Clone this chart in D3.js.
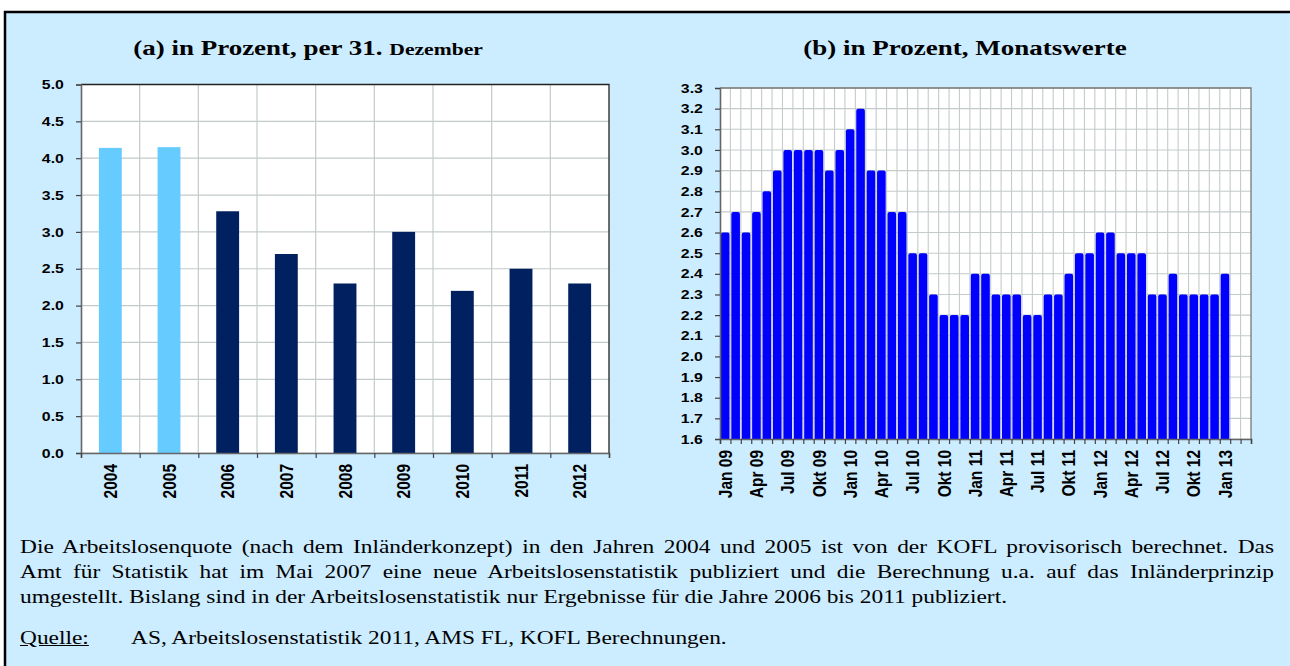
<!DOCTYPE html>
<html>
<head>
<meta charset="utf-8">
<script src="https://cdnjs.cloudflare.com/ajax/libs/d3/7.8.5/d3.min.js"></script>
<style>
body { margin: 0; background: #fff; }
#wrap { position: relative; width: 1290px; height: 666px; overflow: hidden; }
#chart { position: absolute; left: 0; top: 0; }
#note { position: absolute; left: 20px; top: 534px; width: 1254px; transform-origin: 0 0;
        font-family: "Liberation Serif", "Times New Roman", serif; font-size: 19px;
        line-height: 25px; color: #000; white-space: nowrap; }
#note .j { text-align: justify; text-align-last: justify; }
#note .src { margin-top: 16px; }
#note .lab { display: inline-block; text-decoration: underline; }
.tick text { font-family: "Liberation Sans", Arial, sans-serif; font-weight: bold; fill: #000; }
</style>
</head>
<body>
<div id="wrap">
<svg id="chart" width="1290" height="666"></svg>
<div id="note">
<div class="j">Die Arbeitslosenquote (nach dem Inländerkonzept) in den Jahren 2004 und 2005 ist von der KOFL provisorisch berechnet. Das</div>
<div class="j">Amt für Statistik hat im Mai 2007 eine neue Arbeitslosenstatistik publiziert und die Berechnung u.a. auf das Inländerprinzip</div>
<div><span id="last">umgestellt. Bislang sind in der Arbeitslosenstatistik nur Ergebnisse für die Jahre 2006 bis 2011 publiziert.</span></div>
<div class="src"><span class="lab">Quelle:</span>AS, Arbeitslosenstatistik 2011, AMS FL, KOFL Berechnungen.</div>
</div>
</div>
<script>
// (a) Jahreswerte per 31. Dezember
var years = ["2004", "2005", "2006", "2007", "2008", "2009", "2010", "2011", "2012"];
var yearValues = [4.14, 4.15, 3.28, 2.7, 2.3, 3.0, 2.2, 2.5, 2.3];
var provisional = ["2004", "2005"]; // KOFL-Schaetzung, heller eingefaerbt
var yearTicks = [0, 0.5, 1.0, 1.5, 2.0, 2.5, 3.0, 3.5, 4.0, 4.5, 5.0];

// (b) Monatswerte Jan 09 - Jan 13
var months = ["Jan 09", "Feb 09", "Mär 09", "Apr 09", "Mai 09", "Jun 09", "Jul 09", "Aug 09", "Sep 09", "Okt 09", "Nov 09", "Dez 09",
              "Jan 10", "Feb 10", "Mär 10", "Apr 10", "Mai 10", "Jun 10", "Jul 10", "Aug 10", "Sep 10", "Okt 10", "Nov 10", "Dez 10",
              "Jan 11", "Feb 11", "Mär 11", "Apr 11", "Mai 11", "Jun 11", "Jul 11", "Aug 11", "Sep 11", "Okt 11", "Nov 11", "Dez 11",
              "Jan 12", "Feb 12", "Mär 12", "Apr 12", "Mai 12", "Jun 12", "Jul 12", "Aug 12", "Sep 12", "Okt 12", "Nov 12", "Dez 12",
              "Jan 13"];
var monthValues = [2.6, 2.7, 2.6, 2.7, 2.8, 2.9, 3.0, 3.0, 3.0, 3.0, 2.9, 3.0,
                   3.1, 3.2, 2.9, 2.9, 2.7, 2.7, 2.5, 2.5, 2.3, 2.2, 2.2, 2.2,
                   2.4, 2.4, 2.3, 2.3, 2.3, 2.2, 2.2, 2.3, 2.3, 2.4, 2.5, 2.5,
                   2.6, 2.6, 2.5, 2.5, 2.5, 2.3, 2.3, 2.4, 2.3, 2.3, 2.3, 2.3,
                   2.4];
var monthLabels = ["Jan 09", "Apr 09", "Jul 09", "Okt 09", "Jan 10", "Apr 10", "Jul 10", "Okt 10", "Jan 11",
                   "Apr 11", "Jul 11", "Okt 11", "Jan 12", "Apr 12", "Jul 12", "Okt 12", "Jan 13"];
var monthTicks = [1.6, 1.7, 1.8, 1.9, 2.0, 2.1, 2.2, 2.3, 2.4, 2.5, 2.6, 2.7, 2.8, 2.9, 3.0, 3.1, 3.2, 3.3];
var emptySlots = 2; // leere Monate am rechten Rand der Achse

var svg = d3.select("#chart");

// hellblauer Kasten mit schwarzem Rahmen
svg.append("rect")
    .attr("x", 5).attr("y", 12)
    .attr("width", 1300).attr("height", 680)
    .attr("fill", "#CCECFF")
    .attr("stroke", "#000").attr("stroke-width", 2.5);

var fmt = d3.format(".1f");
var gridColor = "#c3cbcb";

// ---------- (a) ----------
var x0 = d3.scaleBand().domain(years).range([81, 609])
    .paddingInner(0.61).paddingOuter(0.305);
var y0 = d3.scaleLinear().domain([0, 5]).range([453, 84.5]);
var g0 = svg.append("g");

g0.append("rect")
    .attr("x", 81).attr("y", y0(5))
    .attr("width", 528).attr("height", y0(0) - y0(5))
    .attr("fill", "#fff");

g0.selectAll(".hgrid").data(yearTicks).enter().append("line")
    .attr("x1", 81).attr("x2", 609)
    .attr("y1", function(d){ return y0(d); })
    .attr("y2", function(d){ return y0(d); })
    .attr("stroke", gridColor).attr("stroke-width", 1.2);

g0.selectAll(".vgrid").data(d3.range(1, years.length)).enter().append("line")
    .attr("x1", function(i){ return 81 + i * x0.step(); })
    .attr("x2", function(i){ return 81 + i * x0.step(); })
    .attr("y1", y0(5)).attr("y2", y0(0))
    .attr("stroke", gridColor).attr("stroke-width", 1.2);

g0.selectAll(".bar").data(years).enter().append("rect")
    .attr("x", function(d){ return x0(d); })
    .attr("width", x0.bandwidth())
    .attr("y", function(d, i){ return y0(yearValues[i]); })
    .attr("height", function(d, i){ return y0(0) - y0(yearValues[i]); })
    .attr("fill", function(d){ return provisional.indexOf(d) >= 0 ? "#66CCFF" : "#002060"; });

// Rahmen oben/rechts
g0.append("path")
    .attr("d", "M81," + y0(5) + "H609V" + y0(0))
    .attr("fill", "none").attr("stroke", "#222").attr("stroke-width", 1.3);

var yAxis0 = g0.append("g").attr("transform", "translate(81,0)")
    .call(d3.axisLeft(y0).tickValues(yearTicks).tickFormat(fmt).tickSize(5).tickPadding(9));
var xTicks0 = g0.append("g").attr("transform", "translate(0," + y0(0) + ")")
    .call(d3.axisBottom(d3.scaleLinear().domain([0, years.length]).range([81, 609]))
        .tickValues(d3.range(years.length + 1)).tickFormat("").tickSize(5));
var xAxis0 = g0.append("g").attr("transform", "translate(0," + y0(0) + ")")
    .call(d3.axisBottom(x0).tickSize(0));

// ---------- (b) ----------
var slots = d3.range(months.length + emptySlots);
var x1 = d3.scaleBand().domain(slots).range([720, 1251])
    .paddingInner(0.17).paddingOuter(0.085);
var y1 = d3.scaleLinear().domain([1.6, 3.3]).range([439, 88]);
var g1 = svg.append("g");
var step1 = (1251 - 720) / slots.length;

g1.append("rect")
    .attr("x", 720).attr("y", y1(3.3))
    .attr("width", 531).attr("height", y1(1.6) - y1(3.3))
    .attr("fill", "#fff");

g1.selectAll(".hgrid").data(monthTicks).enter().append("line")
    .attr("x1", 720).attr("x2", 1251)
    .attr("y1", function(d){ return y1(d); })
    .attr("y2", function(d){ return y1(d); })
    .attr("stroke", gridColor).attr("stroke-width", 1.1);

g1.selectAll(".vgrid").data(d3.range(1, slots.length)).enter().append("line")
    .attr("x1", function(i){ return 720 + i * step1; })
    .attr("x2", function(i){ return 720 + i * step1; })
    .attr("y1", y1(3.3)).attr("y2", y1(1.6))
    .attr("stroke", gridColor).attr("stroke-width", 1.1);

// Saeulen mit abgerundeten Kappen
function roundTop(x, y, w, h, r){
    return "M" + x + "," + (y + h) + "V" + (y + r) +
        "Q" + x + "," + y + " " + (x + r) + "," + y +
        "H" + (x + w - r) +
        "Q" + (x + w) + "," + y + " " + (x + w) + "," + (y + r) +
        "V" + (y + h) + "Z";
}
g1.selectAll(".bar").data(monthValues).enter().append("path")
    .attr("d", function(d, i){
        return roundTop(x1(i), y1(d), x1.bandwidth(), y1(1.6) - y1(d), 2);
    })
    .attr("fill", "#0000FF");

g1.append("path")
    .attr("d", "M720," + y1(3.3) + "H1251V" + y1(1.6))
    .attr("fill", "none").attr("stroke", "#777").attr("stroke-width", 1.3);

var yAxis1 = g1.append("g").attr("transform", "translate(720,0)")
    .call(d3.axisLeft(y1).tickValues(monthTicks).tickFormat(fmt).tickSize(5).tickPadding(9));
var xTicks1 = g1.append("g").attr("transform", "translate(0," + y1(1.6) + ")")
    .call(d3.axisBottom(d3.scaleLinear().domain([0, slots.length]).range([720, 1251]))
        .tickValues(d3.range(slots.length + 1)).tickFormat("").tickSize(5));
var xAxis1 = g1.append("g").attr("transform", "translate(0," + y1(1.6) + ")")
    .call(d3.axisBottom(x1)
        .tickValues(slots.filter(function(i){ return monthLabels.indexOf(months[i]) >= 0; }))
        .tickFormat(function(i){ return months[i]; })
        .tickSize(0));

// Achsen einfaerben, Beschriftungen drehen
[yAxis0, xTicks0, xAxis0, yAxis1, xTicks1, xAxis1].forEach(function(a){
    a.select(".domain").attr("stroke", "#666").attr("stroke-width", 1.6);
    a.selectAll(".tick line").attr("stroke", "#444").attr("stroke-width", 1.2);
});
xAxis0.select(".domain").remove();
xAxis1.select(".domain").remove();

[yAxis0, yAxis1].forEach(function(a){
    a.selectAll(".tick text")
        .style("font-size", "13px")
        .attr("transform", "scale(1.22,1)");
});
[xAxis0, xAxis1].forEach(function(a){
    a.selectAll(".tick text")
        .style("font-size", "15.5px")
        .attr("text-anchor", "end")
        .attr("transform", "scale(1.2,1) rotate(-90)")
        .attr("x", -11).attr("y", 0).attr("dy", "0.36em");
});

// Titel (horizontal gestreckt wie in der Vorlage)
var t0 = svg.append("text")
    .attr("transform", "translate(308,55) scale(1.35,1)")
    .attr("text-anchor", "middle")
    .style("font-family", "'Liberation Serif', 'Times New Roman', serif")
    .style("font-weight", "bold").style("font-size", "20px");
t0.append("tspan").text("(a) in Prozent, per 31. ");
t0.append("tspan").style("font-size", "16px").text("Dezember");

svg.append("text")
    .attr("transform", "translate(965,55) scale(1.35,1)")
    .attr("text-anchor", "middle")
    .style("font-family", "'Liberation Serif', 'Times New Roman', serif")
    .style("font-weight", "bold").style("font-size", "20px")
    .text("(b) in Prozent, Monatswerte");

// Fusszeile: gleiche Streckung, Breite an letzte Zeile angepasst
var note = document.getElementById("note");
var sx = 987 / document.getElementById("last").getBoundingClientRect().width;
note.style.width = (1254 / sx) + "px";
note.style.transform = "scale(" + sx + ",1)";
d3.select("#note .lab").style("width", (111 / sx) + "px");
</script>
</body>
</html>
